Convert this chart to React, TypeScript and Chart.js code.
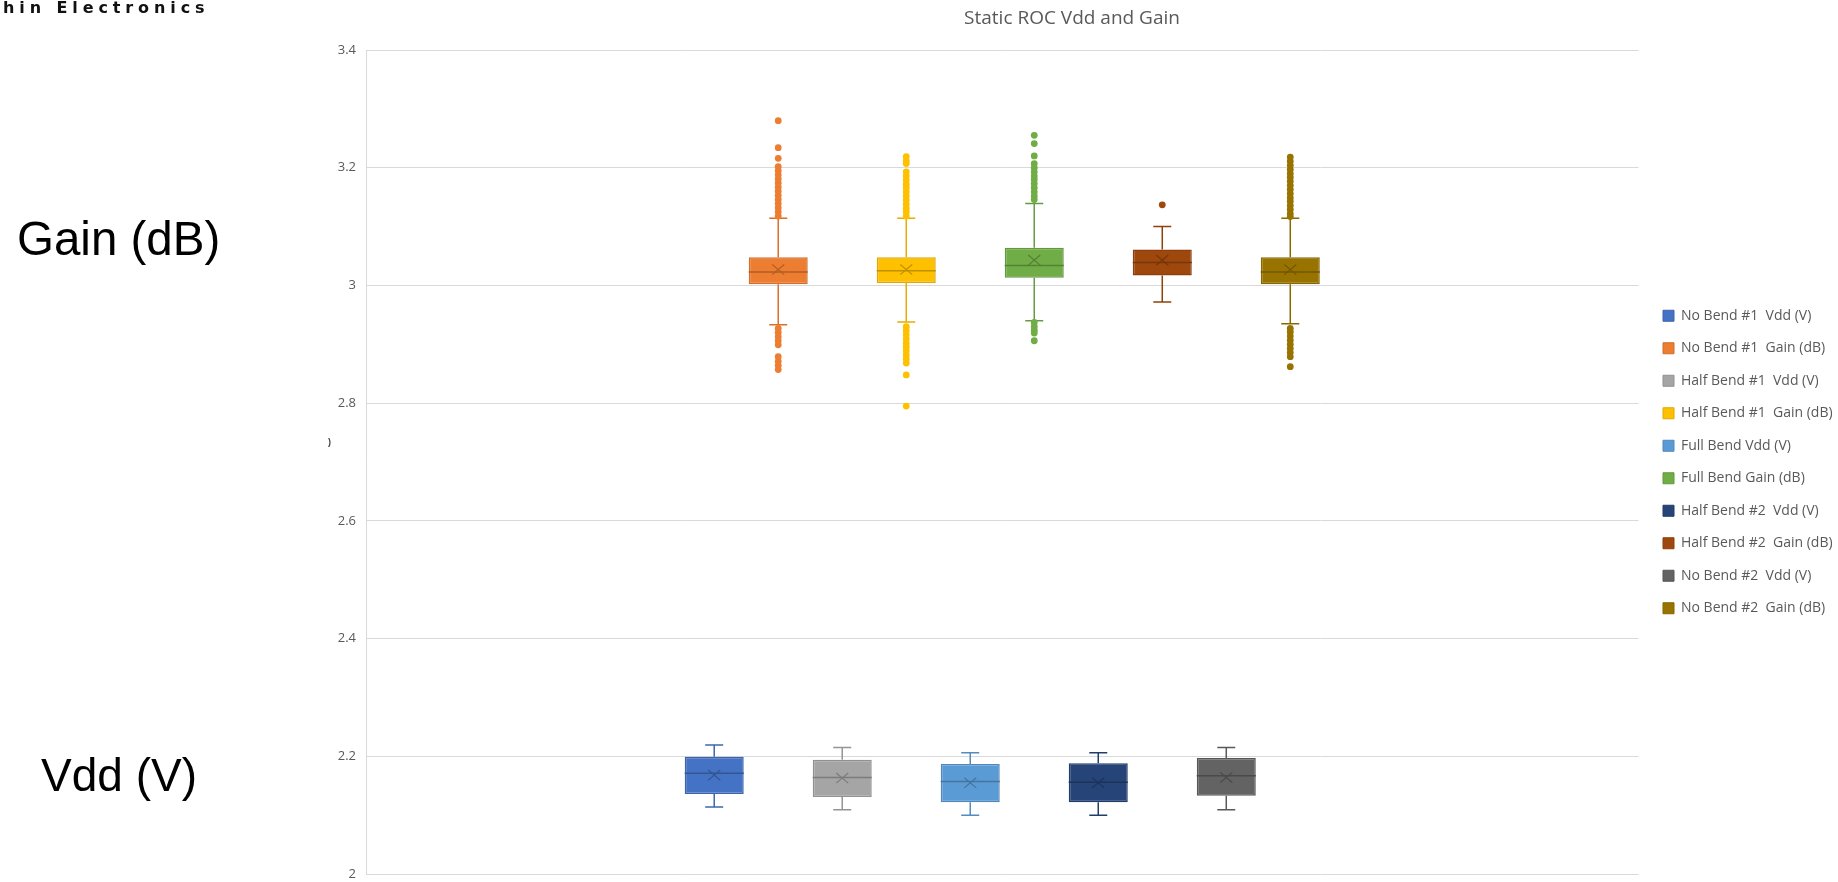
import React, { useEffect, useRef } from 'react';
import { Chart, registerables } from 'chart.js';

Chart.register(...registerables);

const categories = ['Static ROC'];
const chartTitle = 'Static ROC Vdd and Gain';

const seriesNames = [
  'No Bend #1  Vdd (V)',
  'No Bend #1  Gain (dB)',
  'Half Bend #1  Vdd (V)',
  'Half Bend #1  Gain (dB)',
  'Full Bend Vdd (V)',
  'Full Bend Gain (dB)',
  'Half Bend #2  Vdd (V)',
  'Half Bend #2  Gain (dB)',
  'No Bend #2  Vdd (V)',
  'No Bend #2  Gain (dB)',
];
const seriesColors = ['#4472C4', '#ED7D31', '#A5A5A5', '#FFC000', '#5B9BD5', '#70AD47', '#264478', '#9E480E', '#636363', '#997300'];

const whiskerLow = [2.114, 2.933, 2.109, 2.938, 2.1, 2.94, 2.1, 2.972, 2.109, 2.935];
const q1 = [2.136, 3.002, 2.131, 3.004, 2.122, 3.013, 2.122, 3.017, 2.133, 3.002];
const median = [2.171, 3.023, 2.164, 3.025, 2.157, 3.034, 2.156, 3.039, 2.167, 3.023];
const mean = [2.168, 3.027, 2.163, 3.027, 2.155, 3.043, 2.155, 3.043, 2.164, 3.027];
const q3 = [2.199, 3.048, 2.194, 3.048, 2.187, 3.064, 2.188, 3.061, 2.197, 3.048];
const whiskerHigh = [2.219, 3.114, 2.215, 3.114, 2.206, 3.139, 2.206, 3.1, 2.215, 3.114];

const outliersNB1Gain = [3.28, 3.234, 3.216, 3.202, 3.195, 3.188, 3.181, 3.174, 3.167, 3.16, 3.153, 3.146, 3.139, 3.132, 3.125, 3.118,
  2.927, 2.92, 2.913, 2.906, 2.899, 2.879, 2.871, 2.864, 2.857];
const outliersHB1Gain = [3.219, 3.212, 3.207, 3.193, 3.186, 3.179, 3.172, 3.166, 3.159, 3.152, 3.145, 3.138, 3.131, 3.125, 3.118,
  2.93, 2.923, 2.916, 2.909, 2.902, 2.896, 2.889, 2.882, 2.875, 2.868, 2.848, 2.795];
const outliersFBGain = [3.255, 3.241, 3.22, 3.207, 3.2, 3.193, 3.186, 3.18, 3.173, 3.166, 3.159, 3.152, 3.146,
  2.937, 2.93, 2.924, 2.919, 2.906];
const outliersHB2Gain = [3.137];
const outliersNB2Gain = [3.218, 3.211, 3.204, 3.197, 3.19, 3.184, 3.177, 3.17, 3.163, 3.156, 3.149, 3.143, 3.136, 3.129, 3.122, 3.117,
  2.927, 2.921, 2.914, 2.907, 2.9, 2.893, 2.886, 2.879, 2.862];
const outliers = [[], outliersNB1Gain, [], outliersHB1Gain, [], outliersFBGain, [], outliersHB2Gain, [], outliersNB2Gain];

const yTicks = [2, 2.2, 2.4, 2.6, 2.8, 3, 3.2, 3.4];
const yTickLabels = ['2', '2.2', '2.4', '2.6', '2.8', '3', '3.2', '3.4'];

function shade(hex: string, f: number) {
  const n = parseInt(hex.slice(1), 16);
  const r = Math.round(((n >> 16) & 255) * f);
  const g = Math.round(((n >> 8) & 255) * f);
  const b = Math.round((n & 255) * f);
  return `rgb(${r},${g},${b})`;
}

const boxPlotPlugin = {
  id: 'boxPlotPlugin',
  afterDatasetsDraw(chart: any) {
    const ctx = chart.ctx;
    const yScale = chart.scales.y;
    const py = (v: number) => yScale.getPixelForValue(v);
    ctx.save();
    chart.data.datasets.forEach((_ds: any, i: number) => {
      if (!chart.isDatasetVisible(i)) return;
      const bar = chart.getDatasetMeta(i).data[0];
      if (!bar) return;
      const x = bar.x;
      const w = bar.width;
      const color = seriesColors[i];
      const dark = shade(color, 0.75);
      // whiskers
      ctx.strokeStyle = shade(color, 0.9);
      ctx.lineWidth = 1.5;
      ctx.beginPath();
      ctx.moveTo(x, py(q3[i]));
      ctx.lineTo(x, py(whiskerHigh[i]));
      ctx.moveTo(x, py(q1[i]));
      ctx.lineTo(x, py(whiskerLow[i]));
      const cap = 9;
      ctx.moveTo(x - cap, py(whiskerHigh[i]));
      ctx.lineTo(x + cap, py(whiskerHigh[i]));
      ctx.moveTo(x - cap, py(whiskerLow[i]));
      ctx.lineTo(x + cap, py(whiskerLow[i]));
      ctx.stroke();
      // median
      ctx.strokeStyle = dark;
      ctx.lineWidth = 1.5;
      ctx.beginPath();
      ctx.moveTo(x - w / 2, py(median[i]));
      ctx.lineTo(x + w / 2, py(median[i]));
      ctx.stroke();
      // mean marker
      const m = py(mean[i]);
      const s = 6;
      ctx.lineWidth = 1.2;
      ctx.beginPath();
      ctx.moveTo(x - s, m - s * 0.85);
      ctx.lineTo(x + s, m + s * 0.85);
      ctx.moveTo(x - s, m + s * 0.85);
      ctx.lineTo(x + s, m - s * 0.85);
      ctx.stroke();
      // outliers
      ctx.fillStyle = color;
      outliers[i].forEach((v) => {
        ctx.beginPath();
        ctx.arc(x, py(v), 3.4, 0, Math.PI * 2);
        ctx.fill();
      });
    });
    ctx.restore();
  },
};

export default function App() {
  const canvasRef = useRef<HTMLCanvasElement | null>(null);

  useEffect(() => {
    if (!canvasRef.current) return;
    const datasets = seriesNames.map((name, i) => ({
      label: name,
      data: [[q1[i], q3[i]]],
      backgroundColor: seriesColors[i],
      borderColor: shade(seriesColors[i], 0.88),
      borderWidth: 1.5,
      borderSkipped: false,
      categoryPercentage: 0.503,
      barPercentage: 0.922,
    }));
    const chart = new Chart(canvasRef.current, {
      type: 'bar',
      data: { labels: categories, datasets: datasets as any },
      plugins: [boxPlotPlugin],
      options: {
        responsive: false,
        animation: false,
        devicePixelRatio: 1,
        layout: { padding: { left: 306, right: 0, top: 0, bottom: 8 } },
        plugins: {
          title: {
            display: true,
            text: chartTitle,
            color: '#595959',
            font: { family: 'Open Sans', size: 19, weight: 'normal' },
            padding: { top: 7, bottom: 20.2 },
          },
          legend: {
            position: 'right',
            fullSize: false,
            align: 'center',
            maxWidth: 193.5,
            labels: {
              boxWidth: 11,
              boxHeight: 11,
              padding: 18.5,
              color: '#595959',
              font: { family: 'Open Sans', size: 14 },
              generateLabels: (c: any) =>
                Chart.defaults.plugins.legend.labels.generateLabels(c).map((l: any) => ({ ...l, lineWidth: 1 })),
            },
          },
          tooltip: { enabled: false },
        },
        scales: {
          x: { type: 'category', display: false },
          y: {
            type: 'linear',
            position: 'left',
            min: 2,
            max: 3.4,
            afterFit: (s: any) => {
              s.width = 60;
            },
            afterBuildTicks: (s: any) => {
              s.ticks = yTicks.map((v) => ({ value: v }));
            },
            ticks: {
              padding: 0,
              color: '#595959',
              font: { family: 'Open Sans', size: 13 },
              callback: (v: any) => {
                const idx = yTicks.findIndex((t) => Math.abs(t - Number(v)) < 1e-6);
                return idx >= 0 ? yTickLabels[idx] : '';
              },
            },
            grid: { color: '#d9d9d9', drawTicks: true, tickLength: 10, tickColor: 'rgba(0,0,0,0)', lineWidth: 1 },
            border: { color: '#d9d9d9' },
          },
          yGap: {
            type: 'linear',
            position: 'right',
            display: true,
            grid: { display: false, drawTicks: false },
            border: { display: false },
            ticks: { display: false, padding: 0 },
            afterFit: (s: any) => {
              s.width = 6;
            },
          },
        },
      } as any,
    });
    return () => chart.destroy();
  }, []);

  const big: React.CSSProperties = {
    position: 'absolute',
    fontFamily: '"Liberation Sans", Arial, sans-serif',
    color: '#000',
    whiteSpace: 'nowrap',
  };

  return (
    <div style={{ position: 'absolute', left: 0, top: 0, width: 1838, height: 882, background: '#fff', overflow: 'hidden' }}>
      <canvas ref={canvasRef} width={1838} height={882} style={{ position: 'absolute', left: 0, top: 0 }} />
      <div
        style={{
          position: 'absolute',
          left: 3,
          top: 0,
          fontFamily: '"DejaVu Sans", sans-serif',
          fontWeight: 'bold',
          fontSize: 16,
          lineHeight: '16px',
          letterSpacing: '4.9px',
          color: '#111',
          whiteSpace: 'nowrap',
        }}
      >
        hin Electronics
      </div>
      <div style={{ ...big, fontSize: 47.5, lineHeight: '47.5px', left: 17, top: 215 }}>Gain (dB)</div>
      <div style={{ ...big, fontSize: 46, lineHeight: '46px', left: 41, top: 752 }}>Vdd (V)</div>
      <div
        style={{
          position: 'absolute',
          left: 328,
          top: 437,
          fontFamily: '"Liberation Sans", Arial, sans-serif',
          fontWeight: 'bold',
          fontSize: 9,
          lineHeight: '10px',
          color: '#404040',
        }}
      >
        )
      </div>
    </div>
  );
}
